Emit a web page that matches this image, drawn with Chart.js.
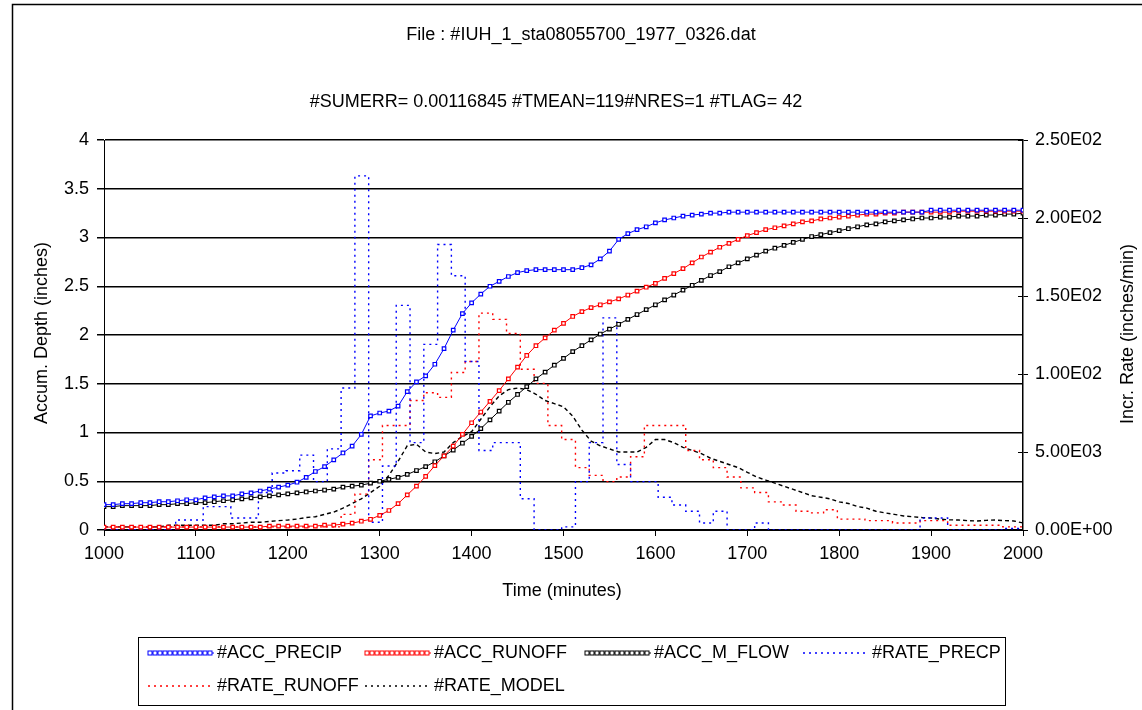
<!DOCTYPE html>
<html>
<head>
<meta charset="utf-8">
<script src="https://cdn.jsdelivr.net/npm/chart.js@4.4.1/dist/chart.umd.min.js"></script>
<style>
  html, body { margin: 0; background: #fff; }
  #contenedor { width: 1142px; height: 710px; }
</style>
</head>
<body>
<div id="contenedor"><canvas id="hidrograma"></canvas></div>
<script>
// tiempos de las series acumuladas (min)
const minutos = [
  1000,1010,1020,1030,1040,1050,1060,1070,1080,1090,
  1100,1110,1120,1130,1140,1150,1160,1170,1180,1190,
  1200,1210,1220,1230,1240,1250,1260,1270,1280,1290,
  1300,1310,1320,1330,1340,1350,1360,1370,1380,1390,
  1400,1410,1420,1430,1440,1450,1460,1470,1480,1490,
  1500,1510,1520,1530,1540,1550,1560,1570,1580,1590,
  1600,1610,1620,1630,1640,1650,1660,1670,1680,1690,
  1700,1710,1720,1730,1740,1750,1760,1770,1780,1790,
  1800,1810,1820,1830,1840,1850,1860,1870,1880,1890,
  1900,1910,1920,1930,1940,1950,1960,1970,1980,1990,
  2000
];

// profundidades acumuladas (pulgadas)
const accPrecip = [
  0.26,0.26,0.27,0.27,0.28,0.28,0.29,0.29,0.30,0.31,
  0.31,0.33,0.34,0.35,0.35,0.37,0.38,0.40,0.42,0.44,
  0.46,0.49,0.54,0.60,0.65,0.72,0.79,0.86,0.98,1.17,
  1.20,1.22,1.27,1.42,1.52,1.58,1.70,1.86,2.05,2.22,
  2.33,2.42,2.50,2.55,2.60,2.64,2.66,2.67,2.67,2.67,
  2.67,2.67,2.69,2.72,2.78,2.86,2.98,3.04,3.08,3.11,
  3.15,3.18,3.20,3.22,3.23,3.24,3.25,3.25,3.26,3.26,
  3.26,3.26,3.26,3.26,3.26,3.26,3.26,3.26,3.26,3.26,
  3.26,3.26,3.26,3.26,3.26,3.26,3.26,3.26,3.26,3.26,
  3.28,3.28,3.28,3.28,3.28,3.28,3.28,3.28,3.28,3.28,
  3.28
];
const accRunoff = [
  0.03,0.03,0.03,0.03,0.03,0.03,0.03,0.03,0.03,0.03,
  0.03,0.03,0.03,0.03,0.03,0.03,0.03,0.03,0.04,0.04,
  0.04,0.04,0.04,0.04,0.05,0.05,0.06,0.07,0.09,0.11,
  0.15,0.20,0.27,0.36,0.45,0.55,0.66,0.76,0.86,0.98,
  1.10,1.21,1.32,1.43,1.55,1.67,1.79,1.89,1.97,2.05,
  2.12,2.19,2.24,2.28,2.31,2.34,2.37,2.41,2.45,2.49,
  2.53,2.58,2.63,2.68,2.74,2.80,2.85,2.90,2.94,2.98,
  3.02,3.05,3.08,3.10,3.12,3.14,3.16,3.17,3.19,3.20,
  3.21,3.22,3.23,3.24,3.24,3.25,3.25,3.26,3.26,3.26,
  3.26,3.26,3.26,3.27,3.27,3.27,3.27,3.27,3.27,3.27,
  3.27
];
const accFlow = [
  0.24,0.24,0.25,0.25,0.25,0.25,0.26,0.26,0.27,0.27,
  0.28,0.28,0.29,0.30,0.31,0.32,0.33,0.34,0.35,0.36,
  0.37,0.38,0.39,0.40,0.41,0.42,0.44,0.45,0.46,0.48,
  0.50,0.52,0.54,0.57,0.61,0.65,0.70,0.76,0.82,0.89,
  0.96,1.04,1.13,1.22,1.31,1.39,1.47,1.55,1.62,1.69,
  1.76,1.83,1.89,1.95,2.01,2.06,2.11,2.16,2.21,2.26,
  2.31,2.36,2.41,2.46,2.51,2.56,2.61,2.65,2.70,2.74,
  2.78,2.82,2.86,2.89,2.92,2.95,2.98,3.01,3.03,3.05,
  3.07,3.09,3.11,3.13,3.14,3.16,3.17,3.18,3.19,3.20,
  3.20,3.21,3.21,3.22,3.22,3.22,3.23,3.23,3.24,3.24,
  3.25
];

// tasa modelada (pulg/min)
const rateModel = [
  0.0002,0.0002,0.0002,0.0002,0.0002,0.0002,0.0002,0.0003,0.0003,0.0003,
  0.0003,0.0003,0.0003,0.0004,0.0004,0.00045,0.0005,0.0005,0.00055,0.0006,
  0.00064,0.0007,0.0008,0.00085,0.001,0.00115,0.0014,0.0017,0.002,0.0024,
  0.0028,0.0035,0.0044,0.0054,0.0055,0.005,0.0049,0.005,0.0056,0.006,
  0.0063,0.0071,0.0079,0.0086,0.009,0.0091,0.009,0.0087,0.0083,0.0081,
  0.0079,0.0073,0.0064,0.0057,0.0054,0.0052,0.005,0.005,0.005,0.0053,
  0.0058,0.0058,0.0056,0.0053,0.0051,0.0049,0.0046,0.0044,0.0042,0.004,
  0.0037,0.0034,0.0032,0.003,0.0028,0.0026,0.0024,0.0022,0.0021,0.002,
  0.0018,0.0017,0.0015,0.0014,0.0012,0.0011,0.001,0.0009,0.00085,0.0008,
  0.00077,0.0007,0.00065,0.00064,0.0006,0.00058,0.00062,0.00064,0.0006,0.00058,
  0.00045
];

// tasas por intervalo de 15 min: instante de cambio y valor (pulg/min)
const ratePrecipT = [
  1000,1078,1108,1138,1168,1183,1198,1213,1228,1243,
  1258,1273,1288,1303,1318,1333,1348,1363,1378,1393,
  1408,1423,1453,1468,1498,1513,1528,1543,1558,1573,
  1603,1618,1633,1648,1663,1678,1708,1723,1888,1918,
  1978,2000
];
const ratePrecip = [
  0,0.00064,0.0015,0.00077,0.0024,0.00365,0.0038,0.0048,0.0031,0.0052,
  0.0091,0.0227,0.0005,0.0041,0.0144,0.0056,0.0119,0.0183,0.0163,0.0108,
  0.0051,0.0056,0.002,0,0.0002,0.0031,0.0056,0.0136,0.0042,0.0031,
  0.0021,0.0016,0.0012,0.00045,0.0012,0,0.00045,0,0.00077,0,
  0.0001,0.0001
];
const rateRunoffT = [
  1000,1258,1273,1288,1303,1333,1348,1363,1378,1393,
  1408,1423,1438,1453,1468,1483,1498,1513,1528,1543,
  1558,1573,1588,1633,1648,1663,1678,1693,1708,1723,
  1738,1753,1768,1783,1798,1828,1858,1888,1918,1978,
  2000
];
const rateRunoff = [
  0.0002,0.001,0.0023,0.0045,0.0067,0.0083,0.0088,0.0085,0.0101,0.0108,
  0.0139,0.0135,0.0126,0.0103,0.0094,0.0067,0.0058,0.004,0.0035,0.0031,
  0.0034,0.0047,0.0067,0.0051,0.0045,0.004,0.0034,0.0027,0.0024,0.0018,
  0.0016,0.0012,0.0011,0.0013,0.0007,0.0006,0.00045,0.0006,0.0003,0.0002,
  0.0002
];

// etiquetas del eje derecho
const rateTicks = ['0.00E+00', '5.00E03', '1.00E02', '1.50E02', '2.00E02', '2.50E02'];

const fuente = '"Liberation Sans", Arial, sans-serif';
const puntos = (xs, ys) => xs.map((x, i) => ({ x: x, y: ys[i] }));

function serieAcum(nombre, valores, color) {
    return {
        label: nombre, data: puntos(minutos, valores), yAxisID: 'y',
        borderColor: color, borderWidth: 1,
        pointStyle: 'rect', pointRadius: 2.5, pointBorderWidth: 1.2,
        pointBorderColor: color, pointBackgroundColor: '#fff', acum: true
    };
}
function serieTasa(nombre, xs, valores, color, trazo, escalon) {
    return {
        label: nombre, data: puntos(xs, valores), yAxisID: 'y1',
        borderColor: color, borderWidth: 1.4, borderDash: trazo,
        stepped: escalon, pointRadius: 0, acum: false
    };
}

// titulos, leyenda y marco dibujados a mano
const decorado = {
    id: 'decorado',
    afterDraw(chart) {
        const ctx = chart.ctx;
        ctx.save();
        ctx.strokeStyle = '#000';
        ctx.lineWidth = 1.5;
        ctx.beginPath();
        ctx.moveTo(12.5, 710); ctx.lineTo(12.5, 4.5); ctx.lineTo(1142, 4.5);
        ctx.stroke();

        // marcas del eje derecho hacia dentro
        const der = chart.scales.y1;
        ctx.lineWidth = 1;
        der.ticks.forEach((t) => {
            const py = Math.round(der.getPixelForValue(t.value)) + 0.5;
            ctx.beginPath();
            ctx.moveTo(der.left - 5, py); ctx.lineTo(der.left, py);
            ctx.stroke();
        });

        ctx.fillStyle = '#000';
        ctx.font = '18px ' + fuente;
        ctx.textAlign = 'center';
        ctx.textBaseline = 'middle';
        ctx.fillText('File : #IUH_1_sta08055700_1977_0326.dat', 581, 35);
        ctx.fillText('#SUMERR= 0.00116845 #TMEAN=119#NRES=1 #TLAG= 42', 556, 102);
        ctx.fillText('Time (minutes)', 562, 591);

        ctx.save();
        ctx.translate(42, 333);
        ctx.rotate(-Math.PI / 2);
        ctx.fillText('Accum. Depth (inches)', 0, 0);
        ctx.restore();
        ctx.save();
        ctx.translate(1128, 334);
        ctx.rotate(-Math.PI / 2);
        ctx.fillText('Incr. Rate (inches/min)', 0, 0);
        ctx.restore();

        // leyenda
        ctx.lineWidth = 1;
        ctx.strokeRect(138.5, 637.5, 867, 68);
        const columnas = [148, 365, 585, 803];
        const filas = [653, 686];
        ctx.textAlign = 'left';
        chart.data.datasets.forEach((ds, i) => {
            const x = columnas[i % 4], y = filas[Math.floor(i / 4)];
            ctx.strokeStyle = ds.borderColor;
            ctx.lineWidth = ds.acum ? 1 : 1.4;
            ctx.setLineDash(ds.acum ? [] : [2, 4]);
            ctx.beginPath();
            ctx.moveTo(x, y); ctx.lineTo(x + 66, y);
            ctx.stroke();
            ctx.setLineDash([]);
            if (ds.acum) {
                ctx.fillStyle = '#fff';
                for (let px = x + 2; px <= x + 64; px += 5) {
                    ctx.fillRect(px - 2, y - 2, 4, 4);
                    ctx.strokeRect(px - 2, y - 2, 4, 4);
                }
            }
            ctx.fillStyle = '#000';
            ctx.fillText(ds.label, x + 69, y);
        });
        ctx.restore();
    }
};

const fuenteEje = { family: fuente, size: 18 };

new Chart(document.getElementById('hidrograma'), {
    type: 'line',
    data: {
        datasets: [
            serieAcum('#ACC_PRECIP', accPrecip, '#0000ff'),
            serieAcum('#ACC_RUNOFF', accRunoff, '#ff0000'),
            serieAcum('#ACC_M_FLOW', accFlow, '#000000'),
            serieTasa('#RATE_PRECP', ratePrecipT, ratePrecip, '#0000ff', [2, 4], true),
            serieTasa('#RATE_RUNOFF', rateRunoffT, rateRunoff, '#ff0000', [2, 4], true),
            serieTasa('#RATE_MODEL', minutos, rateModel, '#000000', [4, 3], false)
        ]
    },
    options: {
        responsive: true,
        maintainAspectRatio: false,
        animation: false,
        layout: { padding: { top: 140, bottom: 140, left: 0, right: 0 } },
        scales: {
            x: {
                type: 'linear', min: 1000, max: 2000,
                afterFit: (s) => { s.height = 40; },
                ticks: {
                    stepSize: 100, color: '#000', font: fuenteEje, padding: 7, maxRotation: 0,
                    callback: (v) => String(v)
                },
                grid: { drawOnChartArea: false, color: '#000', tickLength: 6 },
                border: { color: '#000', width: 1 }
            },
            y: {
                position: 'left', min: 0, max: 4,
                afterFit: (s) => { s.width = 104; },
                ticks: { stepSize: 0.5, color: '#000', font: fuenteEje, padding: 8, callback: (v) => String(v) },
                grid: { color: '#000', lineWidth: 1.5, tickLength: 7 },
                border: { color: '#000', width: 1 }
            },
            y1: {
                position: 'right', min: 0, max: 0.025,
                afterFit: (s) => { s.width = 119; },
                ticks: {
                    stepSize: 0.005, color: '#000', font: fuenteEje, padding: 7,
                    callback: (v, i) => rateTicks[i]
                },
                grid: { drawOnChartArea: false, color: '#000', tickLength: 5 },
                border: { color: '#000', width: 1.5 }
            }
        },
        plugins: {
            legend: { display: false },
            tooltip: { enabled: false }
        }
    },
    plugins: [decorado]
});
</script>
</body>
</html>
